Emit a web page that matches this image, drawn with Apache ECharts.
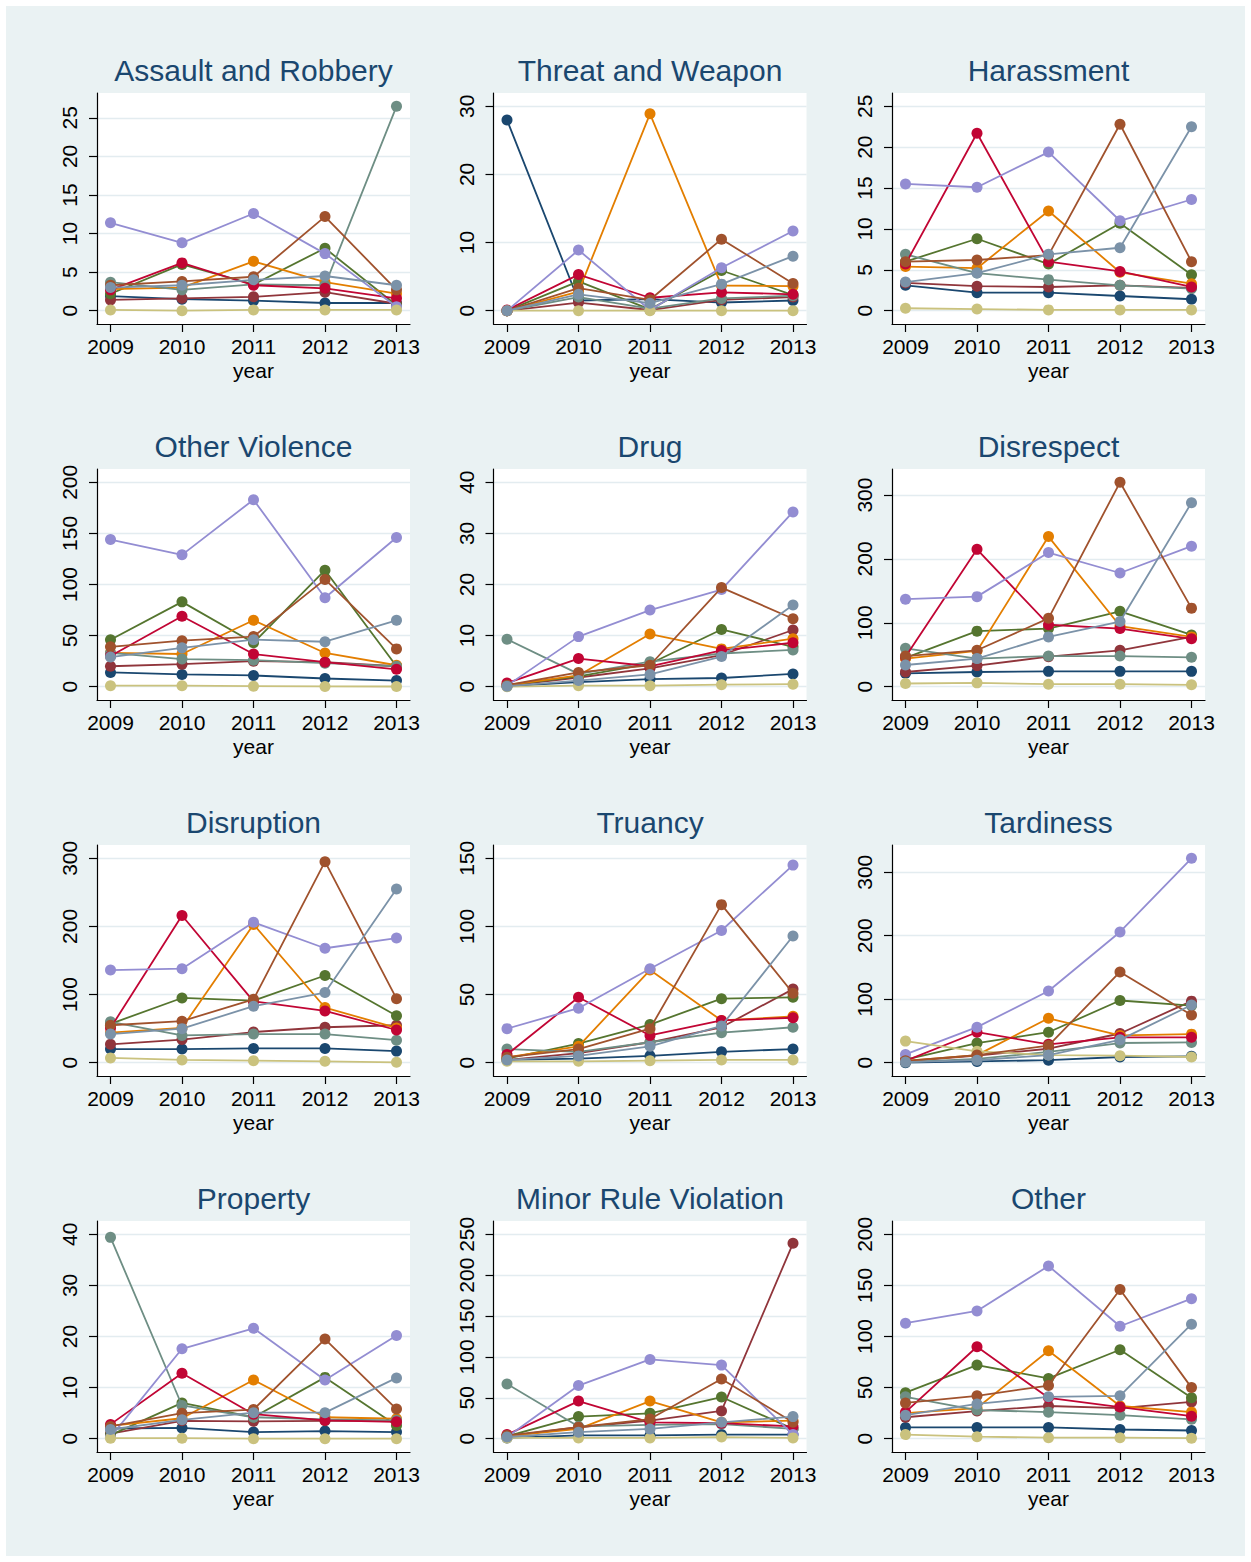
<!DOCTYPE html>
<html><head><meta charset="utf-8">
<script src="https://cdn.jsdelivr.net/npm/echarts@6/dist/echarts.min.js"></script>
<style>html,body{margin:0;padding:0;background:#fff;width:1251px;height:1562px;overflow:hidden}
#c{position:absolute;left:6px;top:6px;width:1239px;height:1550px}</style></head>
<body><div id="c"></div><script>
const years = [2009, 2010, 2011, 2012, 2013];
// series order: navy, maroon, forest green, dark orange, teal, cranberry, lavender, khaki, sienna, blue-gray
const seriesColors = ['#1a476f','#90353b','#55752f','#e37e00','#6e8e84','#c10534','#938dd2','#cac27e','#a0522d','#7b92a8'];
const panelTitles = ['Assault and Robbery','Threat and Weapon','Harassment','Other Violence','Drug','Disrespect','Disruption','Truancy','Tardiness','Property','Minor Rule Violation','Other'];

const assaultRobbery = [
  [1.9,1.5,1.3,1.0,1.0],[1.4,1.6,1.8,2.4,0.9],[2.2,6.0,3.4,8.1,0.7],[2.8,3.0,6.4,3.7,2.2],[3.7,2.7,3.4,3.3,26.5],
  [2.7,6.2,3.3,2.9,1.6],[11.4,8.8,12.6,7.4,0.5],[0.1,0.0,0.1,0.1,0.1],[3.3,3.8,4.4,12.2,2.7],[3.0,3.3,4.0,4.5,3.3]];
const threatWeapon = [
  [28.0,1.5,1.7,1.2,1.5],[0,1.2,0.1,1.6,2.0],[0,4.3,0.2,5.9,2.3],[0,2.8,28.9,3.7,3.6],[0,2.0,0.3,1.8,2.2],
  [0.1,5.3,1.9,2.7,2.4],[0,8.9,0.1,6.3,11.7],[0,0,0,0,0],[0,3.3,1.6,10.5,4.0],[0,2.4,1.1,3.9,8.0]];
const harassment = [
  [3.1,2.2,2.2,1.8,1.4],[3.4,3.0,2.9,3.1,2.8],[6.0,8.8,5.7,10.7,4.4],[5.4,5.2,12.2,4.7,3.3],[6.9,4.6,3.8,3.1,2.7],
  [5.7,21.7,6.0,4.8,2.9],[15.5,15.1,19.4,11.0,13.6],[0.3,0.2,0.1,0.1,0.1],[6.0,6.2,6.8,22.8,6.0],[3.5,4.6,6.9,7.7,22.5]];
const otherViolence = [
  [14,12,11,8,6],[20,22,25,24,20],[46,83,43,114,20],[33,32,65,33,21],[33,27,26,23,20],
  [30,69,32,24,17],[144,129,183,87,146],[1,1,0.5,0.3,0.2],[39,45,49,105,37],[29,38,46,44,65]];
const drug = [
  [0.1,0.9,1.5,1.7,2.5],[0.2,1.8,3.6,6.2,11.1],[0.3,2.0,4.5,11.2,7.8],[0.3,2.2,10.3,7.4,9.4],[9.3,2.5,4.9,6.5,7.2],
  [0.7,5.5,4.0,7.1,8.6],[0.2,9.8,15.0,19.0,34.2],[0.0,0.2,0.2,0.4,0.5],[0.3,2.8,4.2,19.4,13.3],[0.1,1.2,2.4,5.9,16.0]];
const disrespect = [
  [21,23,24,24,24],[23,33,47,57,78],[45,87,91,118,81],[44,56,235,95,78],[60,44,48,48,46],
  [47,215,97,91,75],[137,141,210,178,220],[5,6,4,4,3],[48,57,107,320,123],[34,44,78,102,288]];
const disruption = [
  [20,20,21,21,17],[27,34,45,52,55],[57,95,91,128,69],[44,51,203,81,51],[60,40,42,42,33],
  [51,216,90,76,48],[136,138,206,168,183],[7,4,3,2,0.5],[55,61,93,295,94],[42,50,83,103,255]];
const truancy = [
  [2,3,5,8,10],[2,7,15,26,54],[3,14,28,47,48],[4,12,68,31,34],[10,8,15,22,26],
  [6,48,20,31,33],[25,40,69,97,145],[1,1,1.5,2,2],[4,10,25,116,51],[2,5,12,27,93]];
const tardiness = [
  [0,2,4,9,10],[2,11,22,46,97],[5,31,48,98,90],[3,12,70,43,45],[1,6,17,31,32],
  [3,48,29,40,40],[13,56,113,206,322],[34,18,12,11,9],[3,12,27,143,75],[1,4,12,36,91]];
const property = [
  [2.0,2.1,1.3,1.5,1.3],[1.0,3.5,3.4,3.5,3.5],[0.7,7.0,4.2,12.0,2.6],[2.5,4.0,11.5,4.2,3.9],[39.4,6.5,4.2,3.8,3.6],
  [2.8,12.8,4.8,3.6,3.3],[0.3,17.6,21.6,11.5,20.2],[0.1,0.1,0,0,0],[2.4,5.0,5.7,19.5,5.8],[1.8,3.7,5.1,5.1,11.9]];
const minorRule = [
  [1,4,4,5,5],[3,14,22,34,239],[3,27,31,51,12],[3,12,46,20,22],[67,15,17,18,12],
  [5,46,20,19,15],[2,65,97,90,5],[1,1,1,2,1],[4,14,24,73,20],[2,8,12,20,27]];
const otherIncidents = [
  [11,11,11,9,8],[21,27,32,30,36],[45,72,59,87,40],[25,30,86,32,26],[41,28,26,23,19],
  [26,90,40,31,22],[113,125,169,110,137],[4,2,1,1,0.5],[35,42,52,146,50],[23,34,41,42,112]];

const ticksAssault = [0,5,10,15,20,25];
const ticksThreat = [0,10,20,30];
const ticksHarass = [0,5,10,15,20,25];
const ticksOtherViolence = [0,50,100,150,200];
const ticksDrug = [0,10,20,30,40];
const ticksDisrespect = [0,100,200,300];
const ticksDisruption = [0,100,200,300];
const ticksTruancy = [0,50,100,150];
const ticksTardiness = [0,100,200,300];
const ticksProperty = [0,10,20,30,40];
const ticksMinor = [0,50,100,150,200,250];
const ticksOther = [0,50,100,150,200];

const panelData = [assaultRobbery, threatWeapon, harassment, otherViolence, drug, disrespect, disruption, truancy, tardiness, property, minorRule, otherIncidents];
const panelTicks = [ticksAssault, ticksThreat, ticksHarass, ticksOtherViolence, ticksDrug, ticksDisrespect, ticksDisruption, ticksTruancy, ticksTardiness, ticksProperty, ticksMinor, ticksOther];

const OX = 6, OY = 6;
const colLeft = [97, 493.5, 892];
const rowTop = [93, 469, 845, 1221];
const W = 313, H = 231;
const MARGIN = 13.3;
const FONT = 'Liberation Sans, Arial, Helvetica, sans-serif';
const padFrac = MARGIN / (H - 2 * MARGIN);
const xPad = 13.5 / ((W - 27) / 4);

const grids = [], xAxes = [], yAxes = [], series = [], graphics = [];
panelData.forEach((rows, i) => {
  const col = i % 3, row = Math.floor(i / 3);
  const ticks = panelTicks[i];
  const all = rows.flat();
  const lo = Math.min(Math.min(...all), ticks[0]);
  const hi = Math.max(Math.max(...all), ticks[ticks.length - 1]);
  const pad = (hi - lo) * padFrac;
  grids.push({left: colLeft[col] - OX, top: rowTop[row] - OY, width: W, height: H,
    show: true, backgroundColor: '#ffffff', borderWidth: 0});
  xAxes.push({type: 'value', gridIndex: i, min: years[0] - xPad, max: years[4] + xPad,
    axisLine: {show: true, onZero: false, lineStyle: {color: '#000', width: 1.2}},
    axisTick: {show: true, length: 8, customValues: years, lineStyle: {color: '#000', width: 1.2}},
    axisLabel: {customValues: years, fontSize: 21, color: '#000', margin: 12, fontFamily: FONT, formatter: v => String(v)},
    splitLine: {show: false},
    name: 'year', nameLocation: 'middle', nameGap: 36,
    nameTextStyle: {fontSize: 21, color: '#000', fontFamily: FONT}});
  yAxes.push({type: 'value', gridIndex: i, min: lo - pad, max: hi + pad,
    axisLine: {show: true, onZero: false, lineStyle: {color: '#000', width: 1.2}},
    axisTick: {show: true, length: 8, customValues: ticks, lineStyle: {color: '#000', width: 1.2}},
    axisLabel: {customValues: ticks, rotate: 90, fontSize: 21, color: '#000', margin: 17, fontFamily: FONT, formatter: v => String(v)},
    splitLine: {show: true, lineStyle: {color: '#e3ecf0', width: 1.3}}});
  rows.forEach((vals, s) => {
    series.push({type: 'line', xAxisIndex: i, yAxisIndex: i,
      data: years.map((y, k) => [y, vals[k]]),
      symbol: 'circle', symbolSize: 11, showSymbol: true,
      lineStyle: {color: seriesColors[s], width: 1.8},
      itemStyle: {color: seriesColors[s]},
      emphasis: {disabled: true}, z: 2 + s * 0.01});
  });
  graphics.push({type: 'text', x: colLeft[col] + W / 2 - OX, y: rowTop[row] - 23 - OY,
    style: {text: panelTitles[i], fontSize: 30, fill: '#1a476f', align: 'center', verticalAlign: 'middle', fontFamily: FONT}});
});

const chart = echarts.init(document.getElementById('c'), null, {renderer: 'svg'});
chart.setOption({
  backgroundColor: '#eaf2f3',
  animation: false,
  grid: grids, xAxis: xAxes, yAxis: yAxes, series: series, graphic: graphics
});
</script></body></html>
